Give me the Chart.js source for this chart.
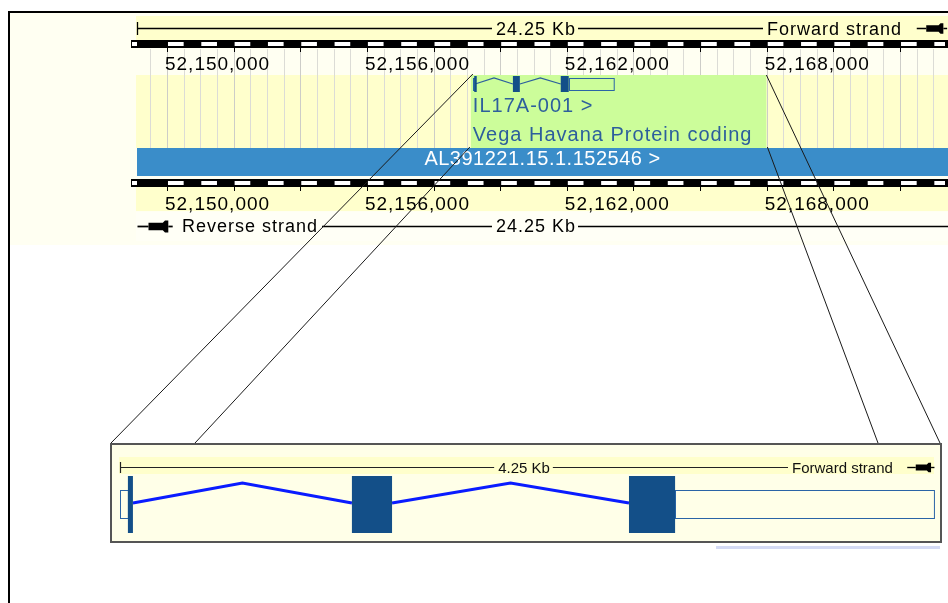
<!DOCTYPE html>
<html>
<head>
<meta charset="utf-8">
<title>IL17A-001 region view</title>
<script src="https://cdn.jsdelivr.net/npm/chart.js@4.4.1/dist/chart.umd.min.js"></script>
<style>
    html, body { margin: 0; padding: 0; background: #fff; }
    #wrap { position: relative; width: 948px; height: 603px; }
</style>
</head>
<body>
<div id="wrap"><canvas id="regionChart" width="948" height="603"></canvas></div>
<script>
// overview region (24.25 Kb)
const regionStart = 52149100;
const regionEnd = 52173350;
const regionLabel = '24.25 Kb';
const tickValues = [52150000, 52156000, 52162000, 52168000];
const tickLabels = ['52,150,000', '52,156,000', '52,162,000', '52,168,000'];

// transcript IL17A-001
const transcriptName = 'IL17A-001 >';
const transcriptType = 'Vega Havana Protein coding';
const exonStarts = [52159180, 52160382, 52161818];
const exonEnds = [52159247, 52160590, 52163399];
const cdsStart = 52159221;
const cdsEnd = 52162057;

// contig track
const contigName = 'AL391221.15.1.152546 >';

// zoomed region (4.25 Kb)
const zoomStart = 52159180;
const zoomEnd = 52163430;
const zoomLabel = '4.25 Kb';

const forwardLabel = 'Forward strand';
const reverseLabel = 'Reverse strand';

// layout
const W = 948, H = 603;
const FONT = '"Liberation Sans", Arial, sans-serif';
const TOP = { left: 137, right: 945 };
const ZOOM = { left: 120, right: 940 };
const TOP_GENE = { top: 76, bottom: 92, utrTop: 78, utrBottom: 90, base: 84, apex: 78 };
const ZOOM_GENE = { top: 476, bottom: 533, utrTop: 490, utrBottom: 518, base: 503, apex: 483 };

function scaleRange(start, end, left, right) {
    const bpPerPx = (end - start) / (right - left);
    return { min: start - left * bpPerPx, max: start + (W - left) * bpPerPx };
}

function drawText(ctx, str, x, y, size, color, align, spacing) {
    ctx.save();
    ctx.font = size + 'px ' + FONT;
    ctx.fillStyle = color;
    ctx.textBaseline = 'alphabetic';
    ctx.letterSpacing = (spacing || 0) + 'px';
    let w = ctx.measureText(str).width;
    let sx = x;
    if (align === 'center') sx = x - w / 2;
    if (align === 'right') sx = x - w;
    ctx.textAlign = 'left';
    ctx.fillText(str, sx, y);
    ctx.restore();
    return w;
}

function textWidth(ctx, str, size, spacing) {
    ctx.save();
    ctx.font = size + 'px ' + FONT;
    ctx.letterSpacing = (spacing || 0) + 'px';
    const w = ctx.measureText(str).width;
    ctx.restore();
    return w;
}

function hLine(ctx, x0, x1, y, color, width) {
    ctx.strokeStyle = color;
    ctx.lineWidth = width || 1;
    ctx.beginPath();
    ctx.moveTo(x0, y);
    ctx.lineTo(x1, y);
    ctx.stroke();
}

function strandArrow(ctx, x, y, scale) {
    // pen-shaped strand marker used by the browser
    const s = scale || 1;
    ctx.save();
    ctx.translate(x, y);
    ctx.scale(s, s);
    ctx.fillStyle = '#000';
    ctx.strokeStyle = '#000';
    ctx.lineWidth = 1.6;
    ctx.beginPath();
    ctx.moveTo(-15, 0); ctx.lineTo(-5, 0);
    ctx.stroke();
    ctx.beginPath();
    ctx.moveTo(-5, -3.5); ctx.lineTo(8, -3.5); ctx.lineTo(10, -5.5); ctx.lineTo(13, -5.5);
    ctx.lineTo(13, 5.5); ctx.lineTo(10, 5.5); ctx.lineTo(8, 3.5); ctx.lineTo(-5, 3.5);
    ctx.closePath();
    ctx.fill();
    ctx.beginPath();
    ctx.moveTo(13, 0); ctx.lineTo(17, 0);
    ctx.stroke();
    ctx.restore();
}

function drawRulerBar(ctx, xs, y) {
    const x0 = xs.getPixelForValue(regionStart);
    ctx.fillStyle = '#000';
    ctx.fillRect(x0 - 6, y, W - x0 + 6, 8);
    ctx.fillStyle = '#fff';
    ctx.fillRect(x0 - 5, y + 2, 5, 4);
    for (let v = Math.ceil(regionStart / 1000) * 1000; v < regionEnd; v += 1000) {
        const a = xs.getPixelForValue(v);
        const b = xs.getPixelForValue(Math.min(v + 500, regionEnd));
        ctx.fillRect(a + 1, y + 2, b - a - 1, 4);
    }
    ctx.strokeStyle = '#000';
    ctx.lineWidth = 1;
    for (let v = Math.ceil(regionStart / 2000) * 2000; v < regionEnd; v += 2000) {
        const x = Math.round(xs.getPixelForValue(v)) + 0.5;
        ctx.beginPath();
        ctx.moveTo(x, y + 8);
        ctx.lineTo(x, y + 12);
        ctx.stroke();
    }
}

function drawExons(ctx, xs, g, minW) {
    exonStarts.forEach((s, i) => {
        const e = exonEnds[i];
        const cs = Math.max(s, cdsStart), ce = Math.min(e, cdsEnd);
        // untranslated parts as open boxes
        ctx.strokeStyle = '#2a64a6';
        ctx.lineWidth = 1;
        if (s < cs) {
            const a = xs.getPixelForValue(s), b = xs.getPixelForValue(cs);
            ctx.strokeRect(Math.round(a) + 0.5, g.utrTop + 0.5, Math.max(b - a, 1), g.utrBottom - g.utrTop);
        }
        if (e > ce) {
            const a = xs.getPixelForValue(ce), b = xs.getPixelForValue(e);
            ctx.strokeRect(Math.round(a) + 0.5, g.utrTop + 0.5, Math.max(b - a, 1), g.utrBottom - g.utrTop);
        }
        if (ce > cs) {
            const a = xs.getPixelForValue(cs), b = xs.getPixelForValue(ce);
            ctx.fillStyle = '#134f88';
            ctx.fillRect(a, g.top, Math.max(b - a, minW), g.bottom - g.top);
        }
    });
}

const regionPlugin = {
    id: 'regionPlugin',
    beforeDatasetsDraw(chart) {
        const ctx = chart.ctx;
        const xs = chart.scales.x;
        ctx.save();
        ctx.fillStyle = '#fff';
        ctx.fillRect(0, 0, W, H);

        // overview panel
        ctx.fillStyle = '#fffff2';
        ctx.fillRect(10, 13, W - 10, 232);
        ctx.fillStyle = '#ffffcc';
        ctx.fillRect(TOP.left - 1, 16, W, 24);
        ctx.fillRect(TOP.left - 1, 75, W, 73);
        ctx.fillRect(TOP.left - 1, 187, W, 24);
        ctx.fillStyle = '#fffff6';
        ctx.fillRect(TOP.left - 1, 212, W, 29);

        // background grid every 500 bp
        for (let v = Math.ceil(regionStart / 500) * 500; v < regionEnd; v += 500) {
            const x = Math.round(xs.getPixelForValue(v)) + 0.5;
            ctx.strokeStyle = (v % 2000 === 0) ? '#cdcdc8' : '#dcdcd6';
            ctx.lineWidth = 1;
            ctx.beginPath();
            ctx.moveTo(x, 49);
            ctx.lineTo(x, 148);
            ctx.stroke();
        }

        // highlighted transcript label area
        const gx = xs.getPixelForValue(exonStarts[0]);
        const boxW = textWidth(ctx, transcriptType, 20, 1) + 16;
        ctx.fillStyle = '#ccfd9a';
        ctx.fillRect(gx - 2, 75, boxW, 73);
        drawText(ctx, transcriptName, gx, 112, 20, '#2d5f9c', 'left', 1);
        drawText(ctx, transcriptType, gx, 141, 20, '#2d5f9c', 'left', 1);

        // contig
        ctx.fillStyle = '#3a8dc9';
        ctx.fillRect(TOP.left, 148, W - TOP.left, 28);
        drawText(ctx, contigName, (TOP.left + W) / 2, 165, 20, '#fff', 'center', 0.5);

        // forward ruler row
        const mid = (TOP.left + 935) / 2;
        const lw = textWidth(ctx, regionLabel, 18, 1);
        hLine(ctx, TOP.left, mid - lw / 2 - 4, 28.5, '#000', 1.3);
        ctx.beginPath(); ctx.moveTo(TOP.left + 0.5, 22); ctx.lineTo(TOP.left + 0.5, 35); ctx.stroke();
        drawText(ctx, regionLabel, mid, 35, 18, '#000', 'center', 1);
        const fx = 767;
        hLine(ctx, mid + lw / 2 + 2, fx - 4, 28.5, '#000', 1.3);
        drawText(ctx, forwardLabel, fx, 35, 18, '#000', 'left', 1);

        // scale bars and position labels
        drawRulerBar(ctx, xs, 40);
        drawRulerBar(ctx, xs, 179);
        tickValues.forEach((v, i) => {
            const x = xs.getPixelForValue(v) - 2;
            drawText(ctx, tickLabels[i], x, 70, 19, '#000', 'left', 1);
            drawText(ctx, tickLabels[i], x, 210, 19, '#000', 'left', 1);
        });

        // reverse ruler row
        drawText(ctx, reverseLabel, 182, 232, 18, '#000', 'left', 1);
        hLine(ctx, 322, mid - lw / 2 - 4, 226.5, '#000', 1.3);
        drawText(ctx, regionLabel, mid, 232, 18, '#000', 'center', 1);
        hLine(ctx, mid + lw / 2 + 2, W, 226.5, '#000', 1.3);

        // zoom panel
        ctx.fillStyle = '#d4daf4';
        ctx.fillRect(716, 546, 224, 3);
        ctx.fillStyle = '#ffffe8';
        ctx.fillRect(111, 444, 830, 98);
        ctx.strokeStyle = '#555';
        ctx.lineWidth = 2;
        ctx.strokeRect(111, 444, 830, 98);
        ctx.fillStyle = '#ffffcc';
        ctx.fillRect(ZOOM.left - 1, 457, 815, 17);
        const zmid = (ZOOM.left + 928) / 2;
        const zw = textWidth(ctx, zoomLabel, 15, 0);
        hLine(ctx, ZOOM.left, zmid - zw / 2 - 4, 467.5, '#222', 1.2);
        ctx.beginPath(); ctx.moveTo(ZOOM.left + 0.5, 462); ctx.lineTo(ZOOM.left + 0.5, 473); ctx.stroke();
        drawText(ctx, zoomLabel, zmid, 473, 15, '#111', 'center', 0);
        hLine(ctx, zmid + zw / 2 + 3, 788, 467.5, '#222', 1.2);
        drawText(ctx, forwardLabel, 792, 473, 15, '#111', 'left', 0);
        ctx.restore();
    },
    afterDatasetsDraw(chart) {
        const ctx = chart.ctx;
        const xs = chart.scales.x;
        const xz = chart.scales.xz;
        ctx.save();
        drawExons(ctx, xs, TOP_GENE, 2.5);
        drawExons(ctx, xz, ZOOM_GENE, 5);

        strandArrow(ctx, 931, 28.5, 0.95);
        strandArrow(ctx, 154, 226.5, 1.1);
        strandArrow(ctx, 920, 467.5, 0.85);

        // projection from the transcript to the zoom panel
        const gx = xs.getPixelForValue(exonStarts[0]);
        const gr = gx - 2 + textWidth(ctx, transcriptType, 20, 1) + 16;
        ctx.strokeStyle = '#1a1a1a';
        ctx.lineWidth = 1;
        [[gx, 74, 111, 443], [gx - 3, 147, 195, 443], [gr, 75, 940, 443], [gr + 1, 147, 878, 443]].forEach(l => {
            ctx.beginPath();
            ctx.moveTo(l[0], l[1]);
            ctx.lineTo(l[2], l[3]);
            ctx.stroke();
        });

        // outer frame
        ctx.fillStyle = '#000';
        ctx.fillRect(8, 11, W - 8, 2);
        ctx.fillRect(8, 11, 2, H - 11);
        ctx.restore();
    }
};

const topRange = scaleRange(regionStart, regionEnd, TOP.left, TOP.right);
const zoomRange = scaleRange(zoomStart, zoomEnd, ZOOM.left, ZOOM.right);

function intronSets(axis, g, color, width) {
    return exonEnds.slice(0, -1).map((end, i) => ({
        xAxisID: axis,
        yAxisID: 'y',
        showLine: true,
        borderColor: color,
        borderWidth: width,
        pointRadius: 0,
        data: [
            { x: end, y: g.base },
            { x: (end + exonStarts[i + 1]) / 2, y: g.apex },
            { x: exonStarts[i + 1], y: g.base }
        ]
    }));
}

new Chart(document.getElementById('regionChart').getContext('2d'), {
    type: 'scatter',
    data: {
        datasets: [
            ...intronSets('x', TOP_GENE, '#2b5e9e', 1.2),
            ...intronSets('xz', ZOOM_GENE, '#0a1cff', 3)
        ]
    },
    options: {
        responsive: false,
        animation: false,
        events: [],
        layout: { padding: 0 },
        plugins: { legend: { display: false }, tooltip: { enabled: false } },
        scales: {
            x: { type: 'linear', position: 'bottom', min: topRange.min, max: topRange.max, display: false },
            xz: { type: 'linear', position: 'bottom', axis: 'x', min: zoomRange.min, max: zoomRange.max, display: false },
            y: { type: 'linear', min: 0, max: H, reverse: true, display: false }
        }
    },
    plugins: [regionPlugin]
});
</script>
</body>
</html>
